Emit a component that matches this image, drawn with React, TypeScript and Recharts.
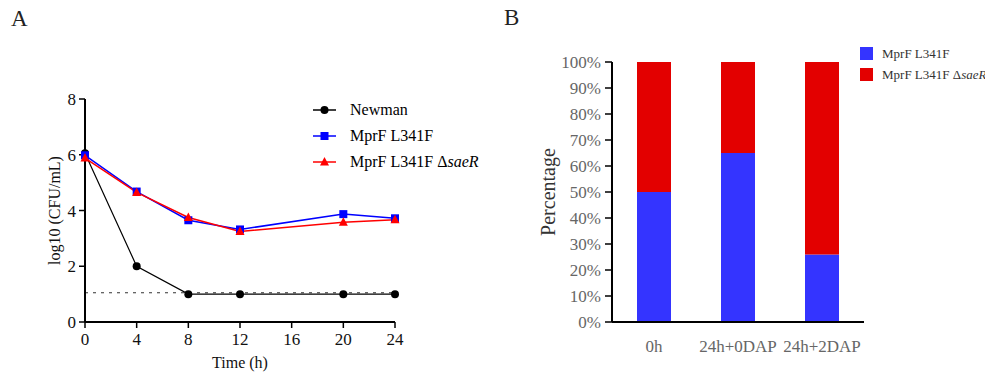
import React from "react";
import {
  LineChart,
  Line,
  BarChart,
  Bar,
  XAxis,
  YAxis,
  ReferenceLine,
  Label,
} from "recharts";

// panel A: survival over time
const hours = [0, 4, 8, 12, 20, 24];
const newman = [6.05, 2.0, 1.0, 1.0, 1.0, 1.0];
const mprf = [5.98, 4.68, 3.65, 3.32, 3.87, 3.72];
const mprfSae = [5.88, 4.65, 3.75, 3.25, 3.58, 3.67];
const detectionLimit = 1.05;
const hourTicks = [0, 4, 8, 12, 16, 20, 24];
const logTicks = [0, 2, 4, 6, 8];

// panel B: competition ratio
const groups = ["0h", "24h+0DAP", "24h+2DAP"];
const mprfPct = [50, 65, 26];
const saePct = [50, 35, 74];
const pctTicks = [0, 10, 20, 30, 40, 50, 60, 70, 80, 90, 100];

const FONT = "'Liberation Serif', 'Times New Roman', serif";
const BLUE = "#0000ff";
const RED = "#ff0000";
const BAR_BLUE = "#3434ff";
const BAR_RED = "#e30000";

const lineData = hours.map((t, i) => ({
  t,
  newman: newman[i],
  mprf: mprf[i],
  sae: mprfSae[i],
}));

const barData = groups.map((g, i) => ({
  g,
  mprf: mprfPct[i],
  sae: saePct[i],
}));

const circleDot = (p: any) => (
  <circle key={`c-${p.index}`} cx={p.cx} cy={p.cy} r={4} fill="#000" />
);
const squareDot = (p: any) => (
  <rect key={`s-${p.index}`} x={p.cx - 4} y={p.cy - 4} width={8} height={8} fill={BLUE} />
);
const triDot = (p: any) => (
  <polygon
    key={`t-${p.index}`}
    points={`${p.cx},${p.cy - 5} ${p.cx + 4.5},${p.cy + 3.5} ${p.cx - 4.5},${p.cy + 3.5}`}
    fill={RED}
  />
);

const legendA = [
  { name: "Newman", color: "#000", shape: "circle" },
  { name: "MprF L341F", color: BLUE, shape: "square" },
  { name: "MprF L341F ", italic: "saeR", color: RED, shape: "tri" },
];

function LegendA() {
  return (
    <div style={{ fontFamily: FONT, fontSize: 16, color: "#000", whiteSpace: "nowrap" }}>
      {legendA.map((e) => (
        <div key={e.name} style={{ display: "flex", alignItems: "center", height: 26 }}>
          <svg width={37} height={14}>
            <line x1={0} y1={7} x2={23} y2={7} stroke={e.color} strokeWidth={1.5} />
            {e.shape === "circle" && <circle cx={11.5} cy={7} r={4} fill={e.color} />}
            {e.shape === "square" && <rect x={7.5} y={3} width={8} height={8} fill={e.color} />}
            {e.shape === "tri" && <polygon points="11.5,2 16,10.5 7,10.5" fill={e.color} />}
          </svg>
          <span>
            {e.name}
            {e.italic && (
              <>
                Δ<i>{e.italic}</i>
              </>
            )}
          </span>
        </div>
      ))}
    </div>
  );
}

function LegendB() {
  return (
    <div style={{ fontFamily: FONT, fontSize: 13, color: "#333", whiteSpace: "nowrap" }}>
      <div style={{ display: "flex", alignItems: "center", height: 21 }}>
        <div style={{ width: 13, height: 13, background: BAR_BLUE, marginRight: 9 }} />
        <span>MprF L341F</span>
      </div>
      <div style={{ display: "flex", alignItems: "center", height: 21 }}>
        <div style={{ width: 13, height: 13, background: BAR_RED, marginRight: 9 }} />
        <span>
          MprF L341F Δ<i>saeR</i>
        </span>
      </div>
    </div>
  );
}

export default function App() {
  return (
    <div
      style={{
        position: "absolute",
        left: 0,
        top: 0,
        width: 985,
        height: 374,
        background: "#fff",
        fontFamily: FONT,
        overflow: "hidden",
      }}
    >
      <div style={{ position: "absolute", left: 11, top: 6, fontSize: 23, color: "#222" }}>A</div>
      <div style={{ position: "absolute", left: 504, top: 5, fontSize: 23, color: "#222" }}>B</div>

      <div style={{ position: "absolute", left: 0, top: 0 }}>
        <LineChart
          width={500}
          height={374}
          data={lineData}
          margin={{ top: 99, right: 105, bottom: 0, left: 25 }}
        >
          <XAxis
            dataKey="t"
            type="number"
            domain={[0, 24]}
            ticks={hourTicks}
            interval={0}
            height={52}
            tickSize={6}
            tickMargin={5}
            axisLine={{ stroke: "#000", strokeWidth: 2 }}
            tickLine={{ stroke: "#000", strokeWidth: 1.5 }}
            tick={{ fill: "#111", fontSize: 17, fontFamily: FONT }}
          >
            <Label
              value="Time (h)"
              position="insideBottom"
              offset={6}
              style={{ fill: "#111", fontSize: 16, fontFamily: FONT }}
            />
          </XAxis>
          <YAxis
            type="number"
            domain={[0, 8]}
            ticks={logTicks}
            interval={0}
            width={60}
            tickSize={6}
            tickMargin={3}
            axisLine={{ stroke: "#000", strokeWidth: 2 }}
            tickLine={{ stroke: "#000", strokeWidth: 1.5 }}
            tick={{ fill: "#111", fontSize: 17, fontFamily: FONT }}
          >
            <Label
              value="log10 (CFU/mL)"
              angle={-90}
              position="insideLeft"
              offset={29}
              style={{ fill: "#111", fontSize: 16, fontFamily: FONT, textAnchor: "middle" }}
            />
          </YAxis>
          <ReferenceLine
            y={detectionLimit}
            stroke="#333"
            strokeWidth={1.2}
            strokeDasharray="3 5"
          />
          <Line
            dataKey="newman"
            stroke="#000"
            strokeWidth={1.2}
            dot={circleDot}
            activeDot={false}
            isAnimationActive={false}
          />
          <Line
            dataKey="mprf"
            stroke={BLUE}
            strokeWidth={1.5}
            dot={squareDot}
            activeDot={false}
            isAnimationActive={false}
          />
          <Line
            dataKey="sae"
            stroke={RED}
            strokeWidth={1.5}
            dot={triDot}
            activeDot={false}
            isAnimationActive={false}
          />
        </LineChart>
      </div>
      <div style={{ position: "absolute", left: 313, top: 97 }}>
        <LegendA />
      </div>

      <div style={{ position: "absolute", left: 500, top: 0 }}>
        <BarChart
          width={485}
          height={374}
          data={barData}
          margin={{ top: 62, right: 121, bottom: 0, left: 42 }}
          barSize={34}
        >
          <XAxis
            dataKey="g"
            height={52}
            tickLine={false}
            tickMargin={12}
            axisLine={{ stroke: "#000", strokeWidth: 2 }}
            tick={{ fill: "#666", fontSize: 17, fontFamily: FONT }}
            interval={0}
          />
          <YAxis
            type="number"
            domain={[0, 100]}
            ticks={pctTicks}
            interval={0}
            width={70}
            tickSize={7}
            tickMargin={4}
            tickFormatter={(v: number) => `${v}%`}
            axisLine={{ stroke: "#000", strokeWidth: 2 }}
            tickLine={{ stroke: "#000", strokeWidth: 1.5 }}
            tick={{ fill: "#666", fontSize: 17, fontFamily: FONT }}
          >
            <Label
              value="Percentage"
              angle={-90}
              position="insideLeft"
              offset={6}
              style={{ fill: "#333", fontSize: 20, fontFamily: FONT, textAnchor: "middle" }}
            />
          </YAxis>
          <Bar dataKey="mprf" stackId="a" fill={BAR_BLUE} isAnimationActive={false} />
          <Bar dataKey="sae" stackId="a" fill={BAR_RED} isAnimationActive={false} />
        </BarChart>
      </div>
      <div style={{ position: "absolute", left: 860, top: 43 }}>
        <LegendB />
      </div>
    </div>
  );
}
